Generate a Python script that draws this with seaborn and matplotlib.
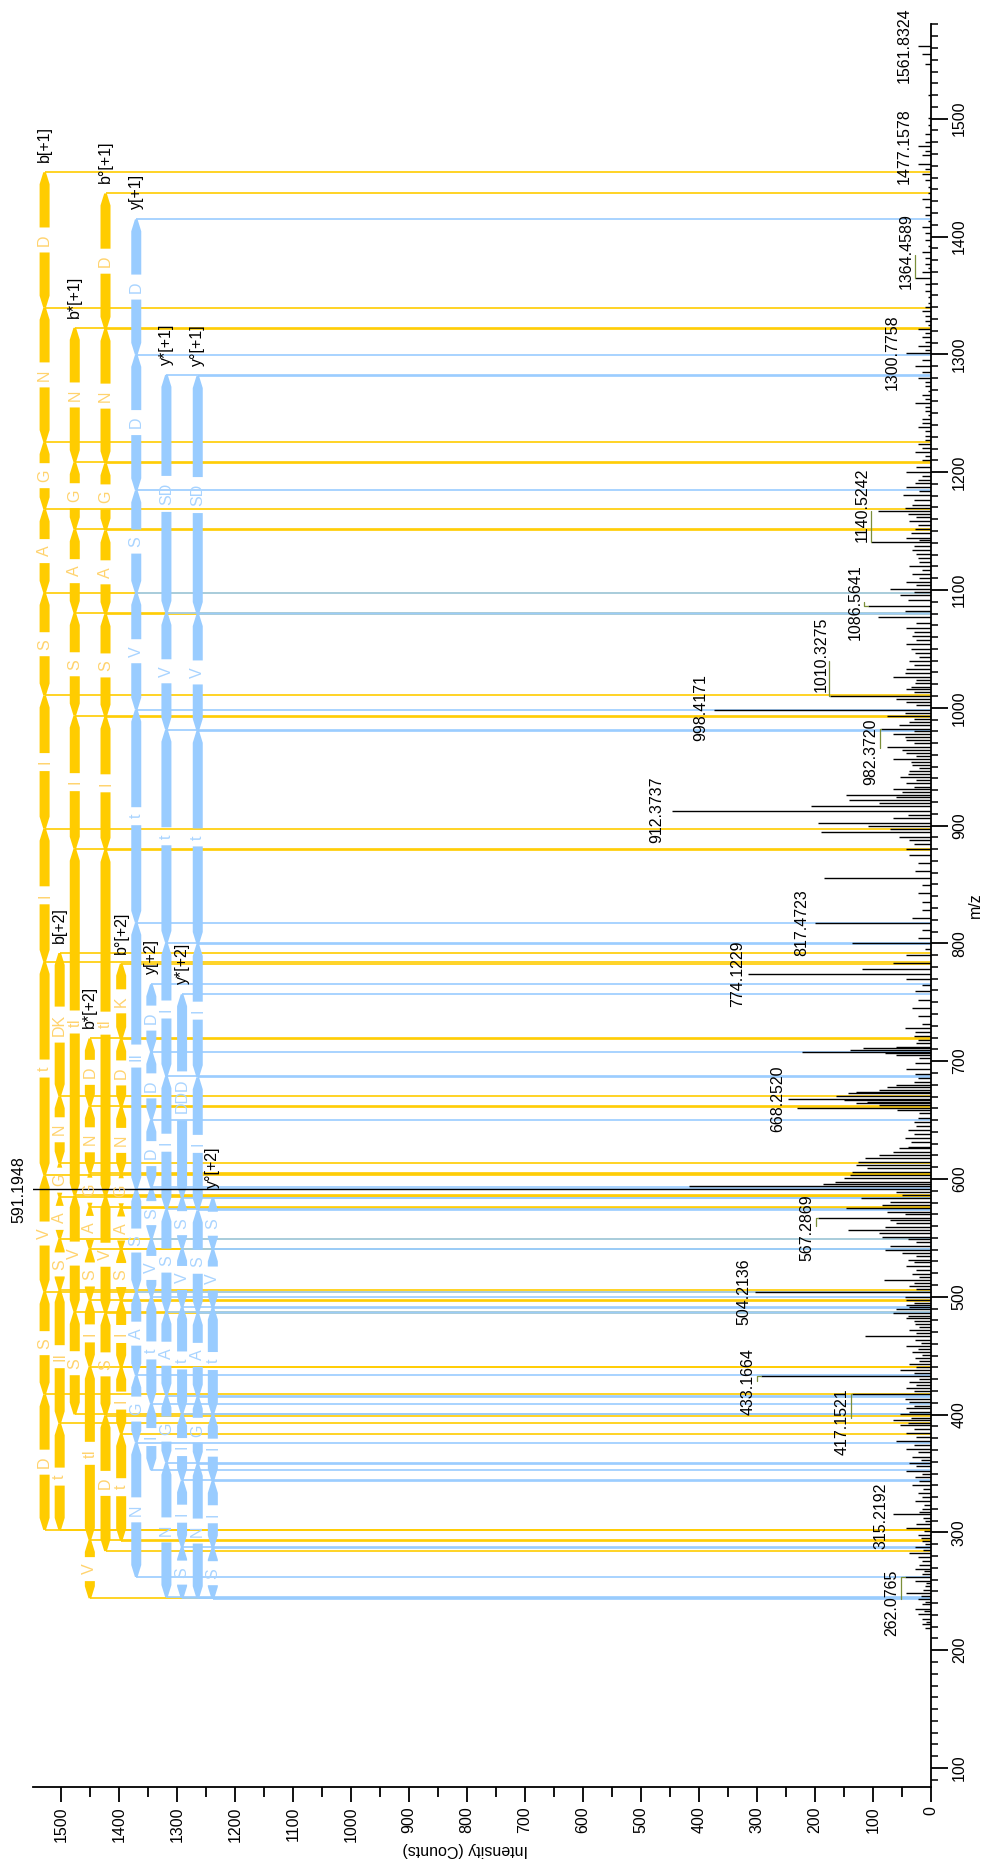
import matplotlib
matplotlib.use("Agg")
import matplotlib.pyplot as plt
import seaborn as sns
from matplotlib.patches import Polygon
from matplotlib.ticker import MultipleLocator

sns.set_theme(style="ticks", rc={"axes.edgecolor": "black", "xtick.color": "black",
                                 "ytick.color": "black", "axes.labelcolor": "black",
                                 "text.color": "black"})
plt.rcParams['font.family'] = ['Liberation Sans', 'DejaVu Sans']

# ---------------- spectrum (m/z, intensity in counts) ----------------
mz_low = [218.7, 222.1, 226.5, 230.9, 235.0, 239.1, 243.5, 248.6, 254.8, 258.9,
          262.08, 265.0, 269.1, 275.9, 279.3, 282.7, 287.8, 292.9, 298.0, 303.8,
          309.9, 315.22, 320.1, 326.9, 333.7, 340.6, 347.4, 352.5, 359.3, 364.4,
          371.2, 378.0, 384.8, 391.0, 395.0, 400.1, 405.2, 410.3, 417.15, 422.3,
          427.4, 433.17, 437.6, 442.7, 447.8, 452.9, 458.0, 463.1, 466.5, 471.6,
          476.7, 481.8, 486.2, 489.7, 493.1, 497.1, 504.21, 509.1, 514.2, 519.3,
          526.1]
int_low = [11, 16, 16, 22, 27, 16, 22, 43, 11, 27,
           45, 16, 27, 16, 22, 38, 27, 16, 22, 43,
           11, 65, 16, 27, 22, 32, 27, 43, 38, 32,
           43, 60, 43, 54, 65, 54, 43, 38, 136, 43,
           38, 293, 54, 38, 27, 32, 43, 27, 114, 38,
           27, 43, 65, 60, 43, 43, 303, 38, 81, 32,
           43]
mz_hump = [531.2, 534.5, 536.9, 539.7, 543.0, 546.8, 549.0, 551.0, 553.9, 556.7,
           559.5, 562.4, 565.2, 567.29, 570.0, 572.3, 575.1, 577.9, 580.8, 583.6,
           586.4, 589.3, 591.19, 594.3, 595.8, 597.7, 600.6, 603.4, 606.2, 609.1,
           611.9, 614.7, 617.6, 620.4, 623.2, 626.0, 627.5, 631.0, 634.5, 638.0,
           641.5, 645.0, 648.4, 652.0, 655.8, 658.6, 660.0, 662.8, 664.3, 665.7,
           667.1, 668.25, 670.5, 672.7, 674.2, 675.6, 678.4, 679.8, 682.5, 686.0,
           689.5, 693.5, 698.7, 702.5, 705.3, 706.7, 708.1, 709.5, 711.0, 712.4,
           715.5, 717.7, 721.0, 724.6, 728.0]
int_hump = [40, 25, 50, 80, 70, 25, 40, 85, 90, 143,
            80, 60, 70, 195, 45, 75, 146, 85, 70, 120,
            50, 60, 1600, 418, 186, 165, 150, 140, 137, 110,
            130, 125, 113, 90, 65, 55, 40, 35, 45, 30,
            40, 25, 30, 22, 20, 59, 231, 90, 130, 110,
            150, 246, 163, 143, 130, 90, 76, 60, 30, 22,
            27, 43, 27, 20, 60, 79, 223, 140, 118, 60,
            25, 22, 30, 27, 45]
mz_mid = [731.6, 738.5, 745.4, 752.3, 759.3, 764.5, 769.7, 774.12, 778.3, 783.5,
          789.8, 795.6, 800.0, 804.3, 811.2, 817.47, 821.6, 828.5, 835.5, 842.4,
          849.3, 855.2, 861.5, 868.4, 875.3, 880.5, 887.4, 894.4, 899.6, 902.3,
          906.5, 912.37, 916.9, 922.1, 926.2, 930.7, 935.9, 941.1, 946.3, 951.5,
          956.7, 961.9, 967.1, 972.3, 977.5, 982.37, 987.9, 993.1, 998.42, 1005.2,
          1010.33, 1015.6, 1020.8, 1026.0, 1032.9, 1039.9, 1046.8, 1053.7, 1060.6, 1067.6]
int_mid = [16, 22, 32, 22, 27, 16, 43, 315, 119, 65,
           43, 11, 136, 22, 16, 200, 32, 16, 16, 22,
           16, 184, 27, 22, 38, 43, 38, 190, 108, 195,
           65, 447, 206, 141, 146, 65, 43, 54, 38, 32,
           65, 43, 76, 43, 65, 87, 38, 76, 374, 43,
           174, 43, 27, 65, 43, 38, 27, 43, 32, 43]
mz_high = [1077.0, 1086.56, 1096.0, 1101.2, 1106.4, 1113.3, 1120.3, 1127.2, 1134.1, 1140.52,
           1144.5, 1151.4, 1158.4, 1167.0, 1172.2, 1180.9, 1187.8, 1193.0, 1199.9, 1210.3,
           1217.3, 1224.2, 1231.1, 1238.1, 1245.0, 1251.9, 1258.8, 1265.8, 1272.7, 1279.6,
           1290.0, 1300.78, 1307.3, 1314.3, 1321.2, 1328.1, 1336.8, 1343.7, 1354.1, 1364.46,
           1369.7, 1376.6, 1387.0, 1397.4, 1407.8, 1418.2, 1432.0, 1442.4, 1452.8, 1461.5,
           1477.16, 1480.5, 1494.4, 1546.3, 1561.83]
int_high = [92, 108, 54, 70, 43, 32, 38, 22, 32, 103,
            43, 27, 38, 92, 32, 48, 43, 22, 43, 16,
            27, 22, 11, 22, 16, 11, 27, 16, 11, 22,
            27, 43, 22, 16, 22, 11, 16, 5, 11, 27,
            16, 11, 16, 11, 16, 11, 16, 5, 16, 22,
            22, 11, 5, 11, 22]
# small baseline peaks ("grass")
mz_grass_lo = [224.0, 233.0, 241.0, 246.0, 251.5, 256.8, 267.0, 272.5, 285.0, 290.3,
               295.5, 301.0, 306.8, 312.4, 317.6, 323.5, 330.3, 337.1, 344.0, 350.0,
               356.0, 361.8, 368.0, 374.6, 381.4, 388.0, 393.0, 397.5, 402.6, 407.7,
               413.0, 420.0, 425.0, 430.0, 435.4, 440.0, 445.2, 450.3, 455.4, 460.5,
               469.0, 474.0, 479.2, 484.0, 491.4, 495.0, 500.0, 506.6, 511.6, 516.7,
               522.7, 529.5]
int_grass_lo = [8, 12, 10, 18, 14, 9, 12, 20, 14, 10,
                18, 12, 25, 14, 20, 12, 16, 14, 20, 16,
                25, 18, 22, 30, 25, 30, 40, 35, 38, 30,
                45, 30, 25, 20, 30, 25, 20, 16, 22, 18,
                25, 20, 30, 40, 38, 30, 45, 25, 30, 20,
                25, 30]
mz_grass_mid = [884.0, 890.5, 897.0, 909.0, 919.5, 924.0, 928.5, 933.0, 938.5, 943.5,
                949.0, 954.0, 959.0, 964.5, 969.7, 975.0, 980.0, 985.0, 990.5, 995.5,
                1002.0, 1007.5, 1013.0, 1018.0, 1023.4, 1029.5, 1036.4, 1043.3, 1050.2, 1057.1,
                1064.0]
int_grass_mid = [30, 55, 70, 40, 90, 60, 50, 30, 25, 40,
                 20, 35, 25, 50, 30, 45, 30, 55, 30, 45,
                 25, 60, 30, 35, 25, 45, 30, 20, 35, 25,
                 30]
mz_grass_hi = [1072.0, 1081.8, 1091.3, 1098.6, 1103.8, 1109.8, 1116.8, 1123.7, 1130.6, 1137.3,
               1142.5, 1148.0, 1154.9, 1161.7, 1164.3, 1169.6, 1176.5, 1184.3, 1190.4, 1196.5,
               1204.0, 1213.8, 1220.7, 1227.6, 1234.6, 1241.5, 1248.4, 1255.3, 1262.3, 1269.2,
               1276.1, 1284.8, 1295.4, 1304.0, 1310.8, 1317.7, 1324.6, 1332.4, 1340.2, 1348.9,
               1359.3, 1373.1, 1381.8, 1392.2, 1402.6, 1413.0, 1425.0, 1437.2, 1447.6, 1457.1,
               1469.0, 1473.0, 1487.4, 1501.0, 1520.0, 1555.0]
int_grass_hi = [25, 45, 40, 30, 25, 20, 16, 20, 25, 30,
                20, 35, 22, 25, 40, 45, 30, 20, 27, 16,
                25, 11, 16, 11, 11, 16, 5, 11, 11, 5,
                11, 16, 16, 11, 11, 11, 5, 11, 11, 5,
                11, 5, 11, 5, 11, 5, 11, 5, 11, 11,
                16, 11, 11, 5, 5, 16]

# labelled peaks
lab_mz = [262.0765, 315.2192, 417.1521, 433.1664, 504.2136, 567.2869, 591.1948,
          668.2520, 774.1229, 817.4723, 912.3737, 982.3720, 998.4171, 1010.3275,
          1086.5641, 1140.5242, 1300.7758, 1364.4589, 1477.1578, 1561.8324]
lab_int = [45, 65, 136, 293, 303, 195, 1600, 244, 315, 200, 447, 87, 374, 174,
           108, 103, 43, 27, 22, 22]
# label text placement (layout): centre m/z and centre intensity position
lab_pos_mz = [240, 314, 394, 428, 504.6, 558.4, 591.3, 668.5, 774, 817.5, 913.4,
              963, 1000, 1045, 1090, 1172, 1301.5, 1388, 1477, 1562]
lab_pos_int = [67, 87, 153, 315, 322, 214, 1572, 265, 334, 222, 472, 103, 397, 190,
               131, 119, 66, 43, 46, 46]

# ---------------- fragment ladders (breakpoint m/z + residues) ----------------
b1_mz = [302.11, 417.14, 504.17, 603.24, 784.26, 897.34, 1010.42, 1097.46, 1168.49, 1225.51, 1339.56, 1454.58]
b1_res = ['D', 'S', 'V', 't', 'I', 'I', 'S', 'A', 'G', 'N', 'D']
b2_mz = [302.12, 392.63, 505.72, 549.23, 584.75, 613.26, 670.28, 791.84]
b2_res = ['t', 'II', 'S', 'A', 'G', 'N', 'DK']
bs1_mz = [400.11, 487.15, 586.21, 880.31, 993.40, 1080.43, 1151.47, 1208.49, 1322.53]
bs1_res = ['S', 'V', 'tI', 'I', 'S', 'A', 'G', 'N']
bs2_mz = [244.08, 293.61, 440.66, 497.20, 540.72, 576.24, 604.75, 661.77, 719.28]
bs2_res = ['V', 'tI', 'I', 'S', 'A', 'G', 'N', 'D']
bo1_mz = [284.10, 399.13, 486.16, 585.23, 879.33, 992.41, 1079.45, 1150.48, 1207.50, 1321.55, 1436.57]
bo1_res = ['D', 'S', 'V', 'tI', 'I', 'S', 'A', 'G', 'N', 'D']
bo2_mz = [293.12, 383.63, 440.17, 496.71, 540.23, 575.74, 604.26, 661.28, 718.79, 782.84]
bo2_res = ['t', 'I', 'I', 'S', 'A', 'G', 'N', 'D', 'K']
y1_mz = [262.14, 376.18, 433.20, 504.24, 591.27, 817.44, 998.46, 1097.52, 1184.56, 1299.58, 1414.61]
y1_res = ['N', 'G', 'A', 'S', 'II', 't', 'V', 'S', 'D', 'D']
y2_mz = [352.68, 409.22, 499.73, 549.27, 592.78, 650.30, 707.81, 765.32]
y2_res = ['I', 't', 'V', 'S', 'D', 'D', 'D']
ys1_mz = [245.11, 359.16, 416.18, 487.21, 574.25, 687.33, 800.41, 981.43, 1080.50, 1282.56]
ys1_res = ['N', 'G', 'A', 'S', 'I', 'I', 't', 'V', 'SD']
ys2_mz = [244.11, 287.63, 344.17, 400.71, 491.22, 540.75, 584.27, 756.81]
ys2_res = ['S', 'I', 'I', 't', 'V', 'S', 'DDD']
yo1_mz = [244.13, 358.17, 415.19, 486.23, 573.26, 686.35, 799.43, 980.44, 1079.51, 1281.57]
yo1_res = ['N', 'G', 'A', 'S', 'I', 'I', 't', 'V', 'SD']
yo2_mz = [243.63, 287.14, 343.68, 400.22, 490.73, 540.26, 583.78]
yo2_res = ['S', 'I', 'I', 't', 'V', 'S']

ladder_names = ['b[+1]', 'b[+2]', 'b*[+1]', 'b*[+2]', 'b°[+1]', 'b°[+2]',
                'y[+1]', 'y[+2]', 'y*[+1]', 'y*[+2]', 'y°[+1]', 'y°[+2]']
ladder_mz = [b1_mz, b2_mz, bs1_mz, bs2_mz, bo1_mz, bo2_mz, y1_mz, y2_mz, ys1_mz, ys2_mz, yo1_mz, yo2_mz]
ladder_res = [b1_res, b2_res, bs1_res, bs2_res, bo1_res, bo2_res, y1_res, y2_res, ys1_res, ys2_res, yo1_res, yo2_res]
# layout: column positions (in intensity units)
ladder_col = [1528, 1502, 1476, 1450, 1423, 1396, 1370, 1344, 1318, 1291, 1264, 1238]

B_COL, B_TXT = '#FFCC00', '#FFD36E'
Y_COL, Y_TXT = '#99CCFF', '#A9D4FF'

# ---------------- figure ----------------
W, H = 986, 1869
fig = plt.figure(figsize=(W / 100, H / 100), dpi=100)
ax_l, ax_b, ax_w, ax_h = 33 / W, 1 - 1787 / H, 898 / W, 1763 / H
ax = fig.add_axes([ax_l, ax_b, ax_w, ax_h])
XMAX = 1548.0
YMIN, YMAX = 83.9, 1580.4
ax.set_xlim(XMAX, 0)
ax.set_ylim(YMIN, YMAX)
int_per_px = XMAX / (ax_w * W)
mz_per_px = (YMAX - YMIN) / (ax_h * H)

FS = 11.5
char_px = {'D': 12, 'N': 12, 'K': 11, 'G': 12, 'S': 11, 'A': 11, 'V': 11, 'I': 5, 't': 5}

# ladder connector lines (b first, then y on top)
for name, mzs, xc in zip(ladder_names, ladder_mz, ladder_col):
    col = B_COL if name.startswith('b') else Y_COL
    z = 2.0 if name.startswith('b') else 2.1
    ax.hlines(mzs, 0, xc, colors=col, lw=1.2, zorder=z)

# spectrum sticks
mz_all = mz_low + mz_hump + mz_mid + mz_high + mz_grass_lo + mz_grass_mid + mz_grass_hi
int_all = int_low + int_hump + int_mid + int_high + int_grass_lo + int_grass_mid + int_grass_hi
ax.hlines(mz_all, 0, int_all, colors='black', lw=1.0, zorder=4)

# ladder bars and letters
hw = 5 * int_per_px
tipw = 1.3 * int_per_px
taper = 12 * mz_per_px


def part(xc, tip, inner, color):
    L = inner - tip
    d = 1 if L > 0 else -1
    L = abs(L)
    if L <= 0.3:
        return
    t = min(taper, L)
    w = tipw + (hw - tipw) * t / taper
    pts = [(xc - tipw, tip), (xc - w, tip + d * t), (xc - w, inner),
           (xc + w, inner), (xc + w, tip + d * t), (xc + tipw, tip)]
    ax.add_patch(Polygon(pts, closed=True, facecolor=color, edgecolor='none', zorder=3))


for name, mzs, res, xc in zip(ladder_names, ladder_mz, ladder_res, ladder_col):
    isb = name.startswith('b')
    col = B_COL if isb else Y_COL
    tcol = B_TXT if isb else Y_TXT
    for a, b, r in zip(mzs[:-1], mzs[1:], res):
        c = (a + b) / 2
        gap = (sum(char_px[ch] for ch in r) + 13) * mz_per_px
        g0, g1 = c - gap / 2, c + gap / 2
        if g0 > a:
            part(xc, a, g0, col)
        if g1 < b:
            part(xc, b, g1, col)
        ax.text(xc, c, r, rotation=90, ha='center', va='center', fontsize=FS,
                color=tcol, zorder=6)
    ax.text(xc, mzs[-1] + 10 * mz_per_px, name, rotation=90, ha='center', va='bottom',
            fontsize=FS, color='black', zorder=6)

# peak labels with leader lines for displaced labels
for pm, pi, lm, li in zip(lab_mz, lab_int, lab_pos_mz, lab_pos_int):
    ax.text(li, lm, f"{pm:.4f}", rotation=90, ha='center', va='center', fontsize=FS,
            color='black', zorder=7, clip_on=False)
    if abs(lm - pm) > 3:
        xl = li - 15
        ax.plot([min(pi, XMAX), xl, xl], [pm, pm, pm + 0.85 * (lm - pm)],
                color='#7B8F3A', lw=0.9, zorder=7)

# axes styling
for s in ['top', 'left']:
    ax.spines[s].set_visible(False)
for s in ['bottom', 'right']:
    ax.spines[s].set_linewidth(1.3)
    ax.spines[s].set_color('black')

ax.xaxis.set_major_locator(MultipleLocator(100))
ax.xaxis.set_minor_locator(MultipleLocator(50))
ax.yaxis.set_major_locator(MultipleLocator(100))
ax.yaxis.set_minor_locator(MultipleLocator(10))
ax.yaxis.tick_right()
ax.tick_params(axis='x', which='major', direction='out', length=11, width=1.3,
               labelsize=FS, labelrotation=90, pad=3)
ax.tick_params(axis='x', which='minor', direction='out', length=7, width=1.3)
ax.tick_params(axis='y', which='major', direction='out', length=12, width=1.3,
               labelsize=FS, labelrotation=90, pad=3, left=False, right=True,
               labelleft=False, labelright=True)
ax.tick_params(axis='y', which='minor', direction='out', length=5, width=1.1,
               left=False, right=True)
for lab in ax.get_yticklabels():
    lab.set_va('center')

ax.set_xlabel('Intensity (Counts)', rotation=180, fontsize=FS, va='center', ha='center')
ax.xaxis.set_label_coords(0.481, -0.0354)
ax.yaxis.set_label_position('right')
ax.set_ylabel('m/z', rotation=90, fontsize=FS, va='center', ha='center')
ax.yaxis.set_label_coords(1.049, 0.5)

fig.savefig('out.png', dpi=100)
